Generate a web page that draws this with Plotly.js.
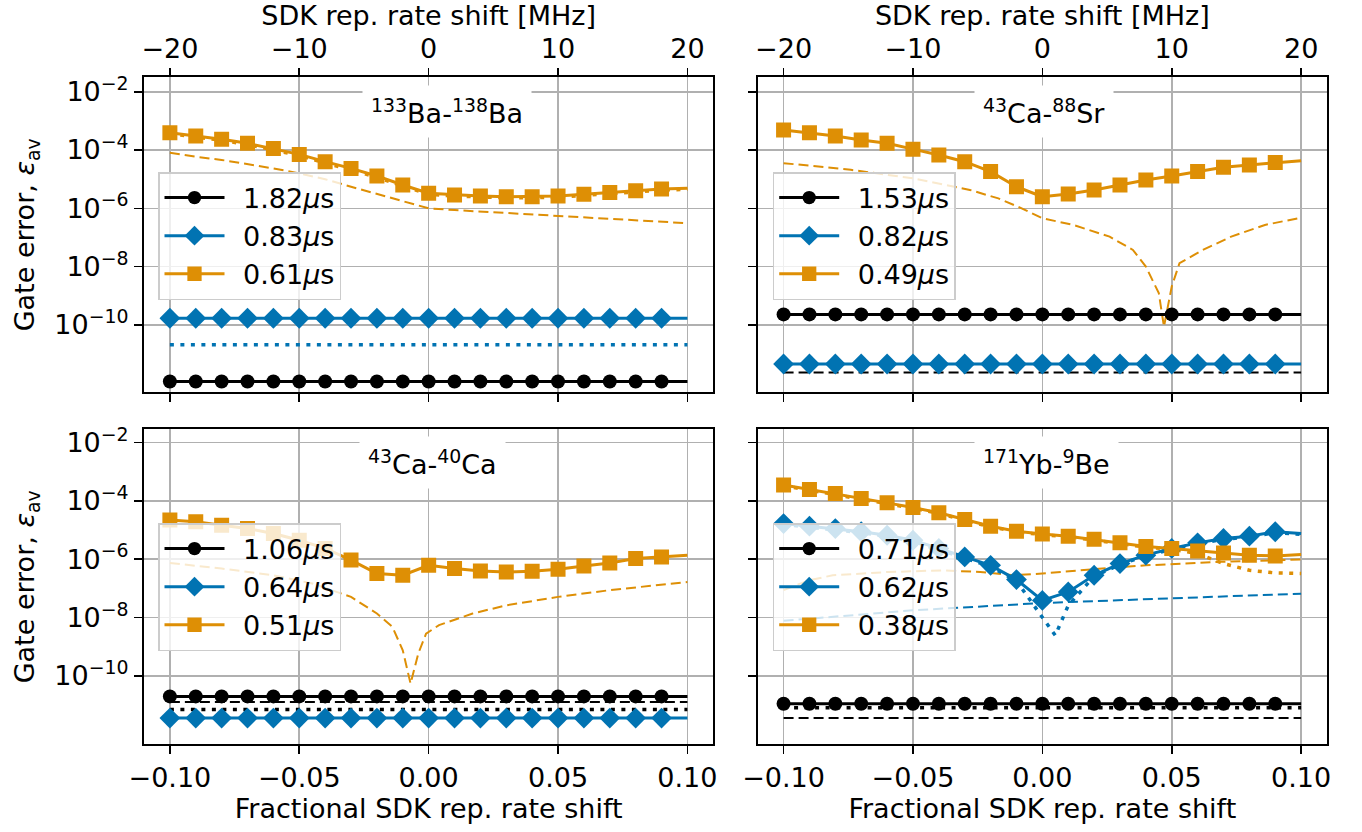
<!DOCTYPE html>
<html><head><meta charset="utf-8">
<script src="https://cdn.plot.ly/plotly-3.0.1.min.js"></script>
<style>html,body{margin:0;padding:0;background:#fff}#chart{width:1362px;height:832px}</style>
</head><body><div id="chart"></div><script>
// ---------- data ----------
const fracShift = [-0.10,-0.09,-0.08,-0.07,-0.06,-0.05,-0.04,-0.03,-0.02,-0.01,0.00,0.01,0.02,0.03,0.04,0.05,0.06,0.07,0.08,0.09,0.10];
const mhzTicks = [-20,-10,0,10,20];
const mhzTickText = ["\u221220","\u221210","0","10","20"];
const fracTicks = [-0.10,-0.05,0.00,0.05,0.10];
const fracTickText = ["\u22120.10","\u22120.05","0.00","0.05","0.10"];
const errTicks = [1e-2,1e-4,1e-6,1e-8,1e-10];
const errTickText = ["10<sup>\u22122</sup>","10<sup>\u22124</sup>","10<sup>\u22126</sup>","10<sup>\u22128</sup>","10<sup>\u221210</sup>"];

const panelNames = ["<sup>133</sup>Ba-<sup>138</sup>Ba","<sup>43</sup>Ca-<sup>88</sup>Sr","<sup>43</sup>Ca-<sup>40</sup>Ca","<sup>171</sup>Yb-<sup>9</sup>Be"];
const gateTimes = [["1.82","0.83","0.61"],["1.53","0.82","0.49"],["1.06","0.64","0.51"],["0.71","0.62","0.38"]];

// 133Ba-138Ba
const baBlackSolid = Array(21).fill(1.15e-12);
const baBlueSolid = Array(21).fill(1.7e-10);
const baBlueDotted = Array(21).fill(2.1e-11);
const baOrangeSolid = [3.89e-4,3.02e-4,2.34e-4,1.70e-4,1.12e-4,7.08e-5,3.98e-5,2.34e-5,1.29e-5,6.31e-6,3.31e-6,2.88e-6,2.63e-6,2.51e-6,2.51e-6,2.63e-6,3.02e-6,3.47e-6,3.98e-6,4.57e-6,4.90e-6];
const baOrangeDotted = [3.6e-4,2.8e-4,2.15e-4,1.55e-4,1.02e-4,6.5e-5,3.6e-5,2.1e-5,1.17e-5,5.8e-6,3.05e-6,2.65e-6,2.42e-6,2.3e-6,2.3e-6,2.42e-6,2.78e-6,3.2e-6,3.65e-6,4.2e-6,4.5e-6];
const baOrangeDashed = [8.13e-5,5.89e-5,4.57e-5,3.31e-5,2.34e-5,1.58e-5,1.0e-5,5.50e-6,3.09e-6,1.70e-6,1.0e-6,8.71e-7,7.76e-7,6.76e-7,6.03e-7,5.50e-7,4.90e-7,4.37e-7,3.89e-7,3.39e-7,3.09e-7];

// 43Ca-88Sr
const srBlackSolid = Array(21).fill(2.3e-10);
const srBlackDashed = Array(21).fill(2.34e-12);
const srBlueSolid = Array(21).fill(4.57e-12);
const srOrangeSolid = [4.90e-4,3.89e-4,3.02e-4,2.19e-4,1.70e-4,1.07e-4,6.76e-5,3.98e-5,1.82e-5,5.50e-6,2.51e-6,3.09e-6,4.27e-6,6.31e-6,9.33e-6,1.29e-5,1.82e-5,2.57e-5,3.09e-5,3.72e-5,4.27e-5];
const srOrangeDashedX = [-0.1,-0.074,-0.05,-0.028,-0.017,-0.008,0.0,0.012,0.026,0.035,0.04,0.045,0.047,0.050,0.053,0.062,0.073,0.086,0.1];
const srOrangeDashed = [3.55e-5,2.09e-5,1.07e-5,4.27e-6,2.19e-6,1.0e-6,4.57e-7,2.69e-7,1.07e-7,3.72e-8,1.0e-8,1.23e-9,8.71e-11,2.09e-9,1.32e-8,3.72e-8,1.07e-7,2.69e-7,4.79e-7];

// 43Ca-40Ca
const caBlackSolid = Array(21).fill(2.0e-11);
const caBlackDashed = Array(21).fill(1.29e-11);
const caBlackDotted = Array(21).fill(7.1e-12);
const caBlueSolid = Array(21).fill(3.63e-12);
const caOrangeSolid = [2.19e-5,1.91e-5,1.45e-5,1.12e-5,7.59e-6,4.47e-6,2.34e-6,9.33e-7,3.24e-7,2.82e-7,6.17e-7,4.79e-7,3.98e-7,3.63e-7,3.89e-7,4.57e-7,5.89e-7,7.41e-7,1.05e-6,1.20e-6,1.38e-6];
const caOrangeDashedX = [-0.1,-0.08,-0.06,-0.045,-0.03,-0.02,-0.014,-0.01,-0.007,-0.004,-0.001,0.004,0.017,0.03,0.05,0.07,0.1];
const caOrangeDashed = [7.41e-7,4.79e-7,2.82e-7,1.48e-7,5.13e-8,1.38e-8,4.79e-9,7.59e-10,5.50e-11,5.89e-10,2.82e-9,5.50e-9,1.38e-8,2.63e-8,5.13e-8,8.71e-8,1.66e-7];

// 171Yb-9Be
const ybBlackSolid = Array(21).fill(1.12e-11);
const ybBlackDotted = Array(21).fill(8.13e-12);
const ybBlackDashed = Array(21).fill(3.63e-12);
const ybBlueSolid = [1.66e-5,1.35e-5,1.12e-5,8.71e-6,6.61e-6,4.47e-6,2.34e-6,1.20e-6,6.17e-7,2.00e-7,3.89e-8,7.59e-8,2.82e-7,7.08e-7,1.38e-6,2.34e-6,3.63e-6,5.13e-6,6.17e-6,8.71e-6,7.59e-6];
const ybBlueDottedX = [-0.10,-0.09,-0.08,-0.07,-0.06,-0.05,-0.04,-0.03,-0.02,-0.01,0.00,0.005,0.01,0.02,0.03,0.04,0.05,0.06,0.07,0.08,0.09,0.10];
const ybBlueDotted = [1.55e-5,1.26e-5,1.05e-5,8.1e-6,6.1e-6,4.1e-6,2.15e-6,1.1e-6,5.6e-7,1.8e-7,1.05e-8,2.45e-9,2.6e-8,2.6e-7,6.6e-7,1.3e-6,2.2e-6,3.4e-6,4.8e-6,5.8e-6,8.1e-6,7.1e-6];
const ybBlueDashedX = [-0.1,-0.05,0.0,0.05,0.1];
const ybBlueDashed = [7.76e-9,1.78e-8,3.16e-8,4.47e-8,6.61e-8];
const ybOrangeSolid = [3.47e-4,2.45e-4,1.78e-4,1.20e-4,8.51e-5,5.89e-5,3.89e-5,2.29e-5,1.35e-5,9.12e-6,7.24e-6,6.17e-6,4.79e-6,3.63e-6,2.75e-6,2.34e-6,1.91e-6,1.62e-6,1.38e-6,1.29e-6,1.45e-6];
const ybOrangeDotted = [3.3e-4,2.33e-4,1.69e-4,1.14e-4,8.1e-5,5.6e-5,3.7e-5,2.18e-5,1.28e-5,8.7e-6,6.9e-6,5.9e-6,4.55e-6,3.45e-6,2.6e-6,2.2e-6,1.55e-6,7.08e-7,4.17e-7,3.39e-7,3.24e-7];
const ybOrangeDashedX = [-0.1,-0.095,-0.09,-0.081,-0.06,-0.038,-0.024,-0.011,0.0,0.019,0.04,0.069,0.1];
const ybOrangeDashed = [8.71e-8,1.29e-7,1.91e-7,2.82e-7,3.63e-7,4.17e-7,3.63e-7,2.82e-7,3.24e-7,4.47e-7,6.17e-7,8.13e-7,9.77e-7];

// ---------- styling ----------
const BLACK = "#000000", BLUE = "#0173b2", ORANGE = "#de8f05";
const FONT = "DejaVu Sans, Liberation Sans, sans-serif";
const FS = 27;

function sizes(n, s){ const a = Array(n).fill(s); a[n-1] = 0; return a; }
function solid(x, y, color, symbol, size, name, ax, legend){
  return {x:x, y:y, xaxis:ax[0], yaxis:ax[1], type:"scatter", mode:"lines+markers", name:name,
    legend:legend, showlegend:true,
    line:{color:color, width:3}, marker:{symbol:symbol, size:sizes(x.length,size), opacity:1, color:color, line:{width:0}},
    hoverinfo:"skip"};
}
function styled(x, y, color, dash, width, ax){
  return {x:x, y:y, xaxis:ax[0], yaxis:ax[1], type:"scatter", mode:"lines", showlegend:false,
    line:{color:color, width:width, dash:dash}, hoverinfo:"skip"};
}
const DOT = "4px,6.5px", DASH = "10px,5px";
const A1 = ["x","y"], A2 = ["x2","y2"], A3 = ["x3","y3"], A4 = ["x4","y4"];
const mu = "<i>\u03bc</i>s";
const pad = "\u2002";

const traces = [
  // panel 1
  styled(fracShift, baOrangeDashed, ORANGE, DASH, 2, A1),
  styled(fracShift, baBlueDotted, BLUE, DOT, 3.5, A1),
  styled(fracShift, baOrangeDotted, ORANGE, DOT, 3.5, A1),
  solid(fracShift, baBlackSolid, BLACK, "circle", 14, pad+gateTimes[0][0]+mu, A1, "legend"),
  solid(fracShift, baBlueSolid, BLUE, "diamond", 16, pad+gateTimes[0][1]+mu, A1, "legend"),
  solid(fracShift, baOrangeSolid, ORANGE, "square", 15, pad+gateTimes[0][2]+mu, A1, "legend"),
  // panel 2
  styled(srOrangeDashedX, srOrangeDashed, ORANGE, DASH, 2, A2),
  styled(fracShift, srBlackDashed, BLACK, DASH, 2, A2),
  solid(fracShift, srBlackSolid, BLACK, "circle", 14, pad+gateTimes[1][0]+mu, A2, "legend2"),
  solid(fracShift, srBlueSolid, BLUE, "diamond", 16, pad+gateTimes[1][1]+mu, A2, "legend2"),
  solid(fracShift, srOrangeSolid, ORANGE, "square", 15, pad+gateTimes[1][2]+mu, A2, "legend2"),
  // panel 3
  styled(caOrangeDashedX, caOrangeDashed, ORANGE, DASH, 2, A3),
  styled(fracShift, caBlackDashed, BLACK, DASH, 2, A3),
  styled(fracShift, caBlackDotted, BLACK, DOT, 3.5, A3),
  solid(fracShift, caBlackSolid, BLACK, "circle", 14, pad+gateTimes[2][0]+mu, A3, "legend3"),
  solid(fracShift, caBlueSolid, BLUE, "diamond", 16, pad+gateTimes[2][1]+mu, A3, "legend3"),
  solid(fracShift, caOrangeSolid, ORANGE, "square", 15, pad+gateTimes[2][2]+mu, A3, "legend3"),
  // panel 4
  styled(ybOrangeDashedX, ybOrangeDashed, ORANGE, DASH, 2, A4),
  styled(ybBlueDashedX, ybBlueDashed, BLUE, DASH, 2, A4),
  styled(fracShift, ybBlackDashed, BLACK, DASH, 2, A4),
  styled(fracShift, ybBlackDotted, BLACK, DOT, 3.5, A4),
  styled(ybBlueDottedX, ybBlueDotted, BLUE, DOT, 3.5, A4),
  styled(fracShift, ybOrangeDotted, ORANGE, DOT, 3.5, A4),
  solid(fracShift, ybBlackSolid, BLACK, "circle", 14, pad+gateTimes[3][0]+mu, A4, "legend4"),
  solid(fracShift, ybBlueSolid, BLUE, "diamond", 16, pad+gateTimes[3][1]+mu, A4, "legend4"),
  solid(fracShift, ybOrangeSolid, ORANGE, "square", 15, pad+gateTimes[3][2]+mu, A4, "legend4"),
];

const W = 1362, H = 832;
const xdomL = [144/W, 713.3/W], xdomR = [757.7/W, 1327/W];
const ydomT = [1-392.3/H, 1-77.3/H], ydomB = [1-744.3/H, 1-429.3/H];
const tickFont = {family:FONT, size:FS, color:"#000"};

function xax(domain, anchor, labels){
  const a = {domain:domain, anchor:anchor, range:[-0.11,0.11], tickmode:"array", tickvals:fracTicks, ticktext:fracTickText,
    showticklabels:labels, ticks:"outside", ticklen:8, tickwidth:1.6, tickcolor:"#000",
    showgrid:true, gridcolor:"#b0b0b0", gridwidth:1.6, zeroline:false,
    showline:true, linecolor:"#000", linewidth:2, mirror:true, tickfont:tickFont};
  if (labels) a.title = {text:"Fractional SDK rep. rate shift", font:{family:FONT,size:FS,color:"#000"}, standoff:4};
  return a;
}
function topax(overlay, anchor){
  return {overlaying:overlay, anchor:anchor, side:"top", range:[-22,22], tickmode:"array", tickvals:mhzTicks, ticktext:mhzTickText,
    ticks:"outside", ticklen:8, tickwidth:1.6, tickcolor:"#000", showgrid:false, zeroline:false, showline:false,
    tickfont:tickFont, title:{text:"SDK rep. rate shift [MHz]", font:{family:FONT,size:FS,color:"#000"}, standoff:2}};
}
function yax(domain, anchor, range, labels){
  const a = {domain:domain, anchor:anchor, type:"log", range:range, tickmode:"array", tickvals:errTicks, ticktext:errTickText,
    showticklabels:labels, ticks:"outside", ticklen:8, tickwidth:1.6, tickcolor:"#000",
    showgrid:true, gridcolor:"#b0b0b0", gridwidth:1.6, zeroline:false,
    showline:true, linecolor:"#000", linewidth:2, mirror:true, tickfont:tickFont};
  if (labels) a.title = {text:"Gate error, <i>\u03b5</i><sub>av</sub>", font:{family:FONT,size:FS,color:"#000"}, standoff:12};
  return a;
}
function leg(x, y){
  return {x:x, y:y, xref:"paper", yref:"paper", xanchor:"left", yanchor:"top",
    bgcolor:"rgba(255,255,255,0.8)", bordercolor:"#cccccc", borderwidth:1.5,
    font:{family:FONT, size:FS, color:"#000"}, itemwidth:60, tracegroupgap:0};
}
function title(text, x, y){
  return {text:text, x:x, y:y, xref:"paper", yref:"paper", xanchor:"center", yanchor:"middle", showarrow:false,
    font:{family:FONT, size:FS, color:"#000"}, bgcolor:"#ffffff", borderpad:8};
}

const layout = {
  width:W, height:H, margin:{l:0,r:0,t:0,b:0}, paper_bgcolor:"#fff", plot_bgcolor:"#fff",
  font:{family:FONT, size:FS, color:"#000"},
  xaxis: xax(xdomL, "y", false),
  xaxis2: xax(xdomR, "y2", false),
  xaxis3: xax(xdomL, "y3", true),
  xaxis4: xax(xdomR, "y4", true),
  xaxis5: topax("x", "y"),
  xaxis6: topax("x2", "y2"),
  yaxis: yax(ydomT, "x", [-12.31,-1.506], true),
  yaxis2: yax(ydomT, "x2", [-12.31,-1.506], false),
  yaxis3: yax(ydomB, "x3", [-12.34,-1.55], true),
  yaxis4: yax(ydomB, "x4", [-12.34,-1.55], false),
  legend: leg(158/W, 1-172/H),
  legend2: leg(772.7/W, 1-172/H),
  legend3: leg(158/W, 1-523/H),
  legend4: leg(772.7/W, 1-523/H),
  annotations:[
    title(panelNames[0], 447/W, 1-111/H),
    title(panelNames[1], 1044/W, 1-111/H),
    title(panelNames[2], 433/W, 1-462/H),
    title(panelNames[3], 1046/W, 1-462/H)
  ],
  showlegend:true
};
// empty traces so the top MHz axes are drawn
traces.push({x:[], y:[], xaxis:"x5", yaxis:"y", type:"scatter", mode:"lines", showlegend:false, hoverinfo:"skip"});
traces.push({x:[], y:[], xaxis:"x6", yaxis:"y2", type:"scatter", mode:"lines", showlegend:false, hoverinfo:"skip"});

Plotly.newPlot("chart", traces, layout, {staticPlot:true, displayModeBar:false});
</script></body></html>
